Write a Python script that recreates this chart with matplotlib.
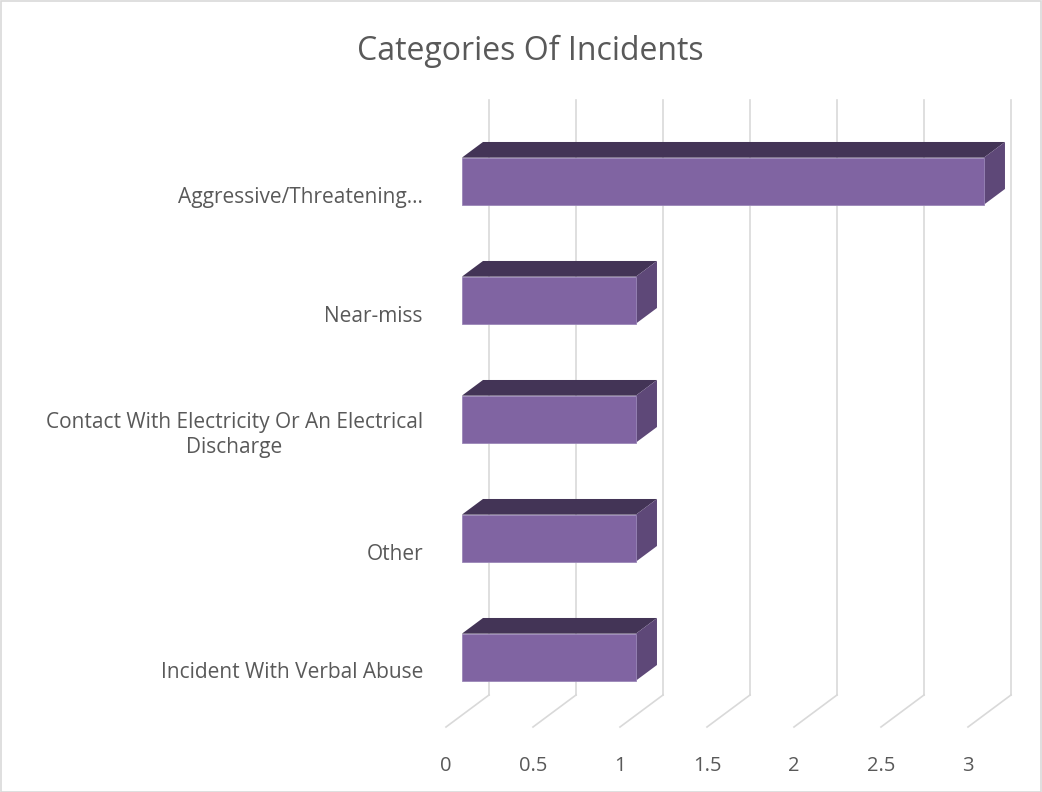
import matplotlib
matplotlib.use("Agg")
import matplotlib.pyplot as plt
from matplotlib.patches import Polygon, Rectangle

# data
categories = [
    "Aggressive/Threatening...",
    "Near-miss",
    "Contact With Electricity Or An Electrical\nDischarge",
    "Other",
    "Incident With Verbal Abuse",
]
counts = [3, 1, 1, 1, 1]
ticks = [0, 0.5, 1, 1.5, 2, 2.5, 3]
tick_labels = ["0", "0.5", "1", "1.5", "2", "2.5", "3"]

plt.rcParams["font.family"] = ["Open Sans", "DejaVu Sans"]

W, H = 1042, 792
# pixel layout of the fake 3D box
X0, XS = 446, 174      # px of value 0 at front, px per unit
Y0, YS = 193, 119      # px of first category at front, px per category
DXP, DYP = 43, -32     # floor depth vector in px
DX, DY = DXP / XS, DYP / YS
T0, T1 = 0.37, 0.86    # bar front / back depth
HALF = 23.5 / YS       # half bar height

front_c = "#8064A2"
top_c = "#433456"
side_c = "#5E4878"
grid_c = "#D9D9D9"
text_c = "#595959"

fig = plt.figure(figsize=(W / 100, H / 100), dpi=100)
ax = fig.add_axes([0, 0, 1, 1])
ax.set_xlim(-X0 / XS, (W - X0) / XS)
ax.set_ylim((H - Y0) / YS, -Y0 / YS)
ax.axis("off")

floor_y = (727 - Y0) / YS
top_y = (100 - Y0) / YS


def pt(v, y, t):
    return (v + DX * t, y + DY * t)


# gridlines on back wall and floor
for v in ticks:
    ax.plot([v + DX, v + DX], [top_y, floor_y + DY], color=grid_c, lw=1.2, zorder=1)
    ax.plot([v, v + DX], [floor_y, floor_y + DY], color=grid_c, lw=1.2, zorder=1)

# bars
for i, w in enumerate(counts):
    yt, yb = i - HALF, i + HALF
    top = [pt(0, yt, T0), pt(w, yt, T0), pt(w, yt, T1), pt(0, yt, T1)]
    side = [pt(w, yt, T0), pt(w, yb, T0), pt(w, yb, T1), pt(w, yt, T1)]
    front = [pt(0, yt, T0), pt(w, yt, T0), pt(w, yb, T0), pt(0, yb, T0)]
    ax.add_patch(Polygon(top, closed=True, fc=top_c, ec="none", zorder=3))
    ax.add_patch(Polygon(side, closed=True, fc=side_c, ec="none", zorder=3))
    ax.add_patch(Polygon(front, closed=True, fc=front_c, ec="#9A86B8", lw=0.6, zorder=4))
    ax.text(-23 / XS, i + 4 / YS, categories[i], ha="right", va="center", ma="center",
            fontsize=15, color=text_c, linespacing=1.25)

# x tick labels
for v, lab in zip(ticks, tick_labels):
    ax.text(v, (766 - Y0) / YS, lab, ha="center", va="center", fontsize=14.5, color=text_c)

fig.text(530 / W, 1 - 51 / H, "Categories Of Incidents", ha="center", va="center",
         fontsize=23, color=text_c)

fig.patches.append(Rectangle((0.5 / W, 0.5 / H), 1 - 1.5 / W, 1 - 1.5 / H,
                             transform=fig.transFigure, fill=False, ec=grid_c, lw=1.2))

fig.savefig("out.png", dpi=100)
